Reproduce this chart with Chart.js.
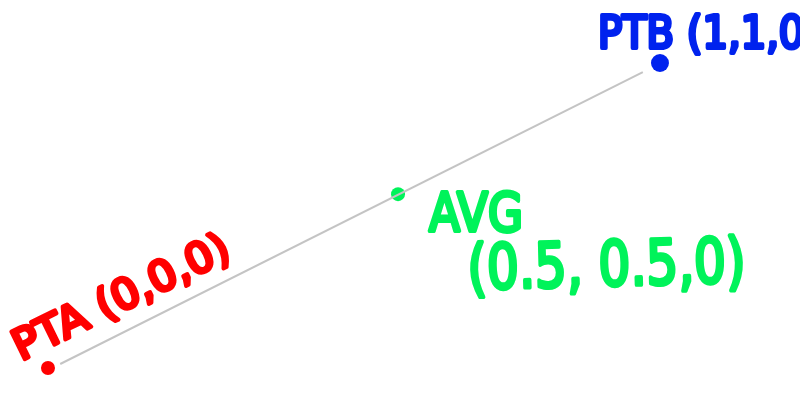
<!DOCTYPE html>
<html>
<head>
<meta charset="utf-8">
<script src="https://cdn.jsdelivr.net/npm/chart.js@4"></script>
<style>
  html, body { margin: 0; padding: 0; background: #fff; }
  #wrap { width: 800px; height: 400px; }
</style>
</head>
<body>
<div id="wrap"><canvas id="c"></canvas></div>
<script>
// points (PTA = 0,0 and PTB = 1,1 on both axes)
const pointNames = ['PTA (0,0,0)', 'AVG', 'PTB (1,1,0)'];
const pointX = [0, 0.572, 1];
const pointY = [0, 0.570, 1];
const pointColors = ['#ff0000', '#00f35a', '#0022ee'];
const pointSizes = [7, 7, 9];

// the gray connecting stroke, slightly short of both dots
const lineX = [0.02, 0.972];
const lineY = [0.013, 0.970];

const avgCoords = '(0.5, 0.5,0)';

// marker-pen style text: thin font, thick round stroke, squeezed to a width
function scribble(ctx, text, x, y, angle, size, width, color, pen) {
  ctx.save();
  ctx.font = size + 'px "DejaVu Sans"';
  const w = ctx.measureText(text).width;
  ctx.translate(x, y);
  ctx.rotate(angle * Math.PI / 180);
  ctx.scale(width / w, 1);
  ctx.fillStyle = color;
  ctx.strokeStyle = color;
  ctx.lineWidth = pen;
  ctx.lineJoin = 'round';
  ctx.lineCap = 'round';
  ctx.fillText(text, 0, 0);
  ctx.strokeText(text, 0, 0);
  ctx.restore();
}

const labelPlugin = {
  id: 'labels',
  afterDatasetsDraw(chart) {
    const ctx = chart.ctx;
    const xs = chart.scales.x, ys = chart.scales.y;
    const px = i => xs.getPixelForValue(pointX[i]);
    const py = i => ys.getPixelForValue(pointY[i]);
    scribble(ctx, pointNames[0], px(0) - 27, py(0) - 7, -26, 42, 236, pointColors[0], 4);
    scribble(ctx, pointNames[2], px(2) - 62, py(2) - 15, 0, 44, 222, pointColors[2], 4);
    scribble(ctx, pointNames[1], px(1) + 31, py(1) + 37, 0, 54, 94, pointColors[1], 4);
    scribble(ctx, avgCoords, px(1) + 70, py(1) + 95, -1.5, 62, 278, pointColors[1], 4);
  }
};

new Chart(document.getElementById('c'), {
  type: 'scatter',
  data: {
    datasets: [
      {
        label: 'line',
        data: lineX.map((x, i) => ({ x, y: lineY[i] })),
        showLine: true,
        borderColor: '#c4c4c4',
        borderWidth: 2,
        pointRadius: 0,
      },
      {
        label: 'points',
        data: pointX.map((x, i) => ({ x, y: pointY[i] })),
        backgroundColor: pointColors,
        borderColor: pointColors,
        pointRadius: pointSizes,
        pointHoverRadius: pointSizes,
        borderWidth: 0,
      },
    ],
  },
  options: {
    responsive: true,
    maintainAspectRatio: false,
    animation: false,
    layout: { padding: 0, autoPadding: false },
    scales: {
      x: { display: false, min: -0.0784, max: 1.2288 },
      y: { display: false, min: -0.105, max: 1.2066 },
    },
    plugins: {
      legend: { display: false },
      tooltip: { enabled: false },
    },
  },
  plugins: [labelPlugin],
});
</script>
</body>
</html>
